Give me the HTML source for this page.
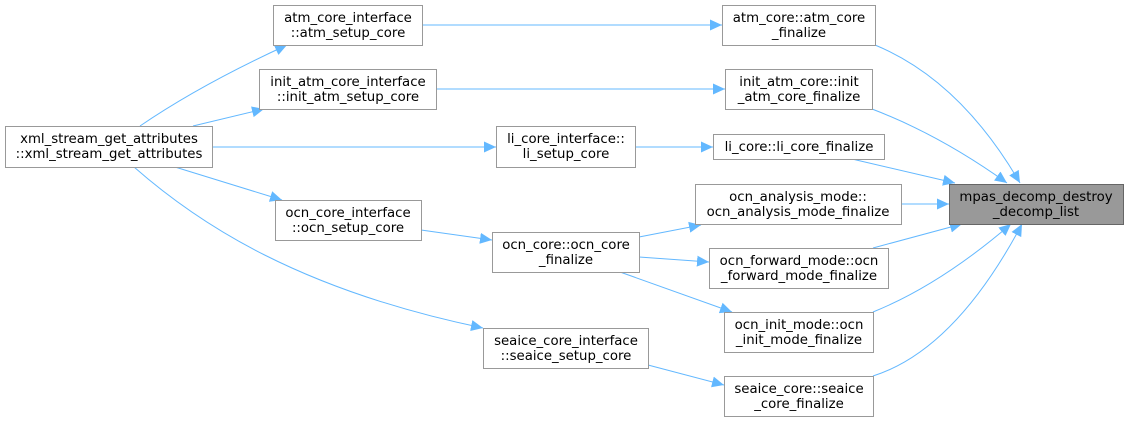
<!DOCTYPE html>
<html><head><meta charset="utf-8"><style>
html,body{margin:0;padding:0;background:#fff;}
svg text{font-family:"DejaVu Sans","Liberation Sans",sans-serif;font-size:13.3px;fill:#000;text-anchor:middle;}
</style></head><body>
<svg width="1128" height="421" viewBox="0 0 1128 421" xmlns="http://www.w3.org/2000/svg">
<defs>
<marker id="a" markerUnits="userSpaceOnUse" markerWidth="14" markerHeight="12" refX="12" refY="6" orient="auto">
<path d="M0,0.5 L12,6 L0,11.5 z" fill="#63b8ff"/>
</marker>
</defs>
<g fill="none" stroke="#63b8ff" stroke-width="1" marker-end="url(#a)">
<path d="M140,126 Q200,85 287,45"/>
<path d="M193,126 L264,109"/>
<path d="M212,147 L496,147"/>
<path d="M175,167 L282,200"/>
<path d="M134,167 C200,225 300,290 483,328"/>
<path d="M422,25 L722,25"/>
<path d="M436,89 L725,89"/>
<path d="M635,147 L713,147"/>
<path d="M421,230 L492,240"/>
<path d="M639,237 L701,225"/>
<path d="M639,257 L709,262"/>
<path d="M620,272 L732,312"/>
<path d="M648,365 L724,385"/>
<path d="M875,45 Q960,80 1020,183"/>
<path d="M872,109 Q940,135 1007,183"/>
<path d="M852,159 L955,183"/>
<path d="M901,204 L949,204"/>
<path d="M873,248 L962,224"/>
<path d="M873,312 Q940,285 1011,224"/>
<path d="M873,376 Q955,350 1022,224"/>
</g>
<g stroke="#999" stroke-width="1" fill="#fff">
<rect x="5.5" y="126.5" width="207" height="41"/>
<rect x="273.5" y="5.5" width="149" height="40"/>
<rect x="259.5" y="69.5" width="177" height="40"/>
<rect x="496.5" y="126.5" width="139" height="41"/>
<rect x="275.5" y="200.5" width="146" height="40"/>
<rect x="492.5" y="232.5" width="147" height="40"/>
<rect x="483.5" y="328.5" width="165" height="40"/>
<rect x="722.5" y="5.5" width="153" height="40"/>
<rect x="725.5" y="69.5" width="147" height="40"/>
<rect x="713.5" y="134.5" width="171" height="25"/>
<rect x="695.5" y="184.5" width="206" height="40"/>
<rect x="709.5" y="248.5" width="179" height="40"/>
<rect x="724.5" y="312.5" width="149" height="40"/>
<rect x="724.5" y="376.5" width="149" height="40"/>
<rect x="949.5" y="184.5" width="174" height="40" fill="#999" stroke="#666"/>
</g>
<text x="109" y="143">xml_stream_get_attributes</text>
<text x="109" y="158">::xml_stream_get_attributes</text>
<text x="348" y="22">atm_core_interface</text>
<text x="348" y="37">::atm_setup_core</text>
<text x="348" y="86">init_atm_core_interface</text>
<text x="348" y="101">::init_atm_setup_core</text>
<text x="566" y="143">li_core_interface::</text>
<text x="566" y="158">li_setup_core</text>
<text x="348" y="217">ocn_core_interface</text>
<text x="348" y="232">::ocn_setup_core</text>
<text x="566" y="249">ocn_core::ocn_core</text>
<text x="566" y="264">_finalize</text>
<text x="566" y="345">seaice_core_interface</text>
<text x="566" y="360">::seaice_setup_core</text>
<text x="799" y="22">atm_core::atm_core</text>
<text x="799" y="37">_finalize</text>
<text x="799" y="86">init_atm_core::init</text>
<text x="799" y="101">_atm_core_finalize</text>
<text x="799" y="151">li_core::li_core_finalize</text>
<text x="798" y="201">ocn_analysis_mode::</text>
<text x="798" y="216">ocn_analysis_mode_finalize</text>
<text x="799" y="265">ocn_forward_mode::ocn</text>
<text x="799" y="280">_forward_mode_finalize</text>
<text x="799" y="329">ocn_init_mode::ocn</text>
<text x="799" y="344">_init_mode_finalize</text>
<text x="799" y="393">seaice_core::seaice</text>
<text x="799" y="408">_core_finalize</text>
<text x="1036" y="201">mpas_decomp_destroy</text>
<text x="1036" y="216">_decomp_list</text>
</svg>
</body></html>
